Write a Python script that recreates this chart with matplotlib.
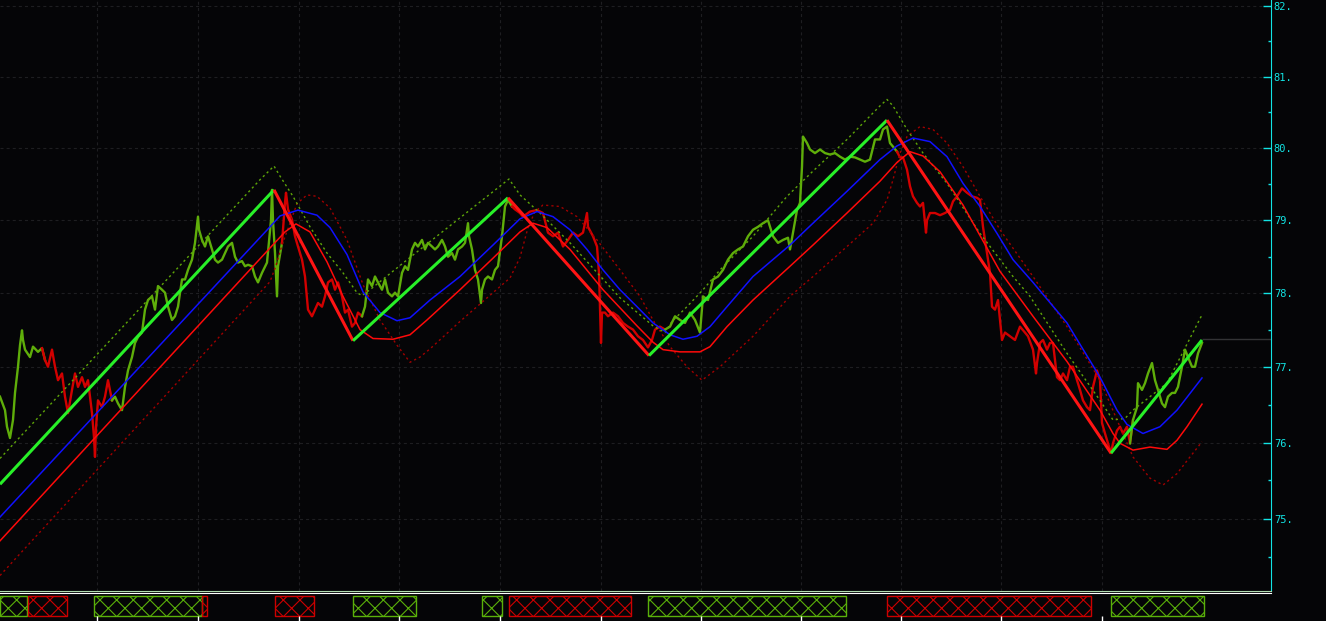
import numpy as np
import matplotlib
matplotlib.use("Agg")
import matplotlib.pyplot as plt
from matplotlib.patches import Rectangle
from matplotlib.ticker import FixedLocator, FuncFormatter, NullFormatter

# ---- price bars (bar index, price) ----
price_x = [0, 5, 7, 10, 13, 15, 18, 20, 22, 23, 25, 30, 33, 38, 42, 45, 48, 52, 55, 58, 62, 65, 68, 72, 75, 78,
           82, 85, 88, 92, 94, 95, 96, 98, 102, 105, 108, 112, 115, 118, 122, 125, 128, 132, 135, 138, 142, 145,
           148, 152, 155, 158, 162, 165, 168, 172, 175, 178, 182, 185, 188, 192, 195, 198, 199, 202, 205, 208,
           212, 215, 218, 222, 225, 228, 232, 235, 238, 242, 245, 248, 252, 255, 258, 262, 267, 271, 272, 273,
           275, 277, 278, 282, 285, 286, 288, 292, 295, 298, 302, 305, 308, 312, 315, 318, 322, 325, 328, 332,
           335, 338, 342, 345, 348, 352, 355, 358, 362, 365, 368, 372, 375, 378, 382, 385, 388, 392, 395, 398,
           402, 405, 408, 412, 415, 418, 422, 425, 428, 432, 435, 438, 442, 445, 448, 452, 455, 458, 462, 465,
           468, 469, 472, 475, 478, 481, 482, 485, 488, 492, 495, 498, 502, 505, 508, 512, 515, 520, 523, 530,
           537, 543, 548, 553, 558, 563, 568, 573, 578, 583, 587, 588, 593, 597, 599, 601, 602, 605, 608, 613,
           618, 623, 628, 633, 638, 643, 648, 652, 655, 660, 665, 670, 675, 680, 685, 690, 695, 700, 703, 708,
           713, 718, 723, 728, 733, 738, 743, 748, 753, 758, 763, 768, 773, 778, 783, 788, 790, 793, 797, 800,
           802, 803, 807, 810, 815, 820, 825, 830, 835, 840, 845, 850, 855, 860, 865, 870, 875, 880, 883, 887,
           890, 893, 897, 900, 903, 907, 910, 913, 917, 920, 923, 926, 927, 930, 935, 940, 945, 950, 953, 957,
           962, 967, 972, 977, 980, 983, 985, 987, 990, 992, 995, 998, 1002, 1005, 1010, 1015, 1020, 1025, 1028,
           1033, 1036, 1037, 1040, 1043, 1047, 1050, 1053, 1057, 1060, 1063, 1067, 1070, 1073, 1077, 1080, 1083,
           1087, 1090, 1093, 1097, 1100, 1102, 1105, 1108, 1111, 1113, 1117, 1120, 1123, 1127, 1130, 1133, 1137,
           1138, 1142, 1145, 1148, 1152, 1155, 1158, 1162, 1165, 1168, 1172, 1175, 1178, 1182, 1185, 1188, 1192,
           1195, 1198, 1202]
price = [76.61, 76.43, 76.21, 76.06, 76.30, 76.66, 77.01, 77.30, 77.50, 77.37, 77.24, 77.14, 77.28, 77.21, 77.26,
         77.10, 77.01, 77.24, 77.01, 76.83, 76.92, 76.61, 76.39, 76.70, 76.92, 76.74, 76.87, 76.74, 76.83, 76.39,
         76.07, 75.81, 76.20, 76.56, 76.47, 76.61, 76.83, 76.56, 76.61, 76.52, 76.43, 76.74, 76.96, 77.14, 77.33,
         77.41, 77.47, 77.78, 77.91, 77.96, 77.78, 78.10, 78.05, 78.01, 77.82, 77.64, 77.69, 77.82, 78.19, 78.19,
         78.32, 78.46, 78.69, 79.05, 78.87, 78.73, 78.64, 78.78, 78.60, 78.46, 78.42, 78.46, 78.55, 78.64, 78.69,
         78.50, 78.42, 78.44, 78.37, 78.39, 78.37, 78.23, 78.15, 78.28, 78.42, 79.00, 79.42, 79.00, 78.55, 77.96,
         78.37, 78.69, 79.24, 79.38, 79.15, 79.01, 78.78, 78.64, 78.46, 78.23, 77.78, 77.69, 77.78, 77.87, 77.82,
         77.96, 78.15, 78.19, 78.05, 78.15, 77.96, 77.74, 77.78, 77.55, 77.60, 77.74, 77.69, 77.82, 78.19, 78.10,
         78.23, 78.15, 78.05, 78.19, 78.01, 77.96, 78.01, 77.96, 78.28, 78.37, 78.32, 78.60, 78.69, 78.64, 78.73,
         78.60, 78.69, 78.64, 78.60, 78.64, 78.73, 78.64, 78.50, 78.55, 78.46, 78.60, 78.64, 78.69, 78.96, 78.78,
         78.60, 78.32, 78.19, 77.87, 78.05, 78.19, 78.23, 78.19, 78.32, 78.37, 78.78, 79.19, 79.28, 79.19, 79.15,
         79.10, 79.05, 79.12, 79.14, 79.10, 78.83, 78.78, 78.83, 78.64, 78.73, 78.83, 78.78, 78.83, 79.10, 78.91,
         78.78, 78.64, 78.28, 77.33, 77.74, 77.74, 77.69, 77.74, 77.69, 77.60, 77.55, 77.51, 77.42, 77.37, 77.27,
         77.37, 77.51, 77.55, 77.51, 77.55, 77.69, 77.64, 77.60, 77.74, 77.64, 77.47, 77.96, 77.91, 78.19, 78.23,
         78.32, 78.46, 78.55, 78.60, 78.64, 78.78, 78.87, 78.91, 78.96, 79.00, 78.78, 78.69, 78.73, 78.76, 78.60,
         78.83, 79.14, 79.24, 79.74, 80.16, 80.07, 79.98, 79.93, 79.98, 79.93, 79.91, 79.93, 79.88, 79.84, 79.88,
         79.87, 79.84, 79.81, 79.84, 80.12, 80.12, 80.26, 80.30, 80.07, 80.02, 79.95, 79.87, 79.87, 79.70, 79.47,
         79.33, 79.24, 79.19, 79.24, 78.83, 79.00, 79.10, 79.10, 79.07, 79.10, 79.14, 79.26, 79.33, 79.44, 79.38,
         79.33, 79.31, 79.28, 78.91, 78.73, 78.55, 78.28, 77.82, 77.78, 77.91, 77.37, 77.47, 77.42, 77.37, 77.55,
         77.47, 77.42, 77.24, 76.92, 77.06, 77.33, 77.37, 77.24, 77.33, 77.33, 76.87, 76.83, 76.92, 76.83, 77.01,
         77.01, 76.83, 76.70, 76.56, 76.47, 76.43, 76.74, 76.96, 76.83, 76.26, 76.12, 75.99, 75.86, 75.99, 76.16,
         76.21, 76.12, 76.21, 75.99, 76.30, 76.47, 76.79, 76.70, 76.79, 76.92, 77.06, 76.83, 76.70, 76.52, 76.47,
         76.61, 76.66, 76.66, 76.74, 77.01, 77.24, 77.14, 77.01, 77.01, 77.19, 77.33]
# bar index where the trend colour flips (starts in an up trend)
trend_flips = [45, 113, 283, 364, 514, 666, 899, 1133]
last_price = 77.38

# ---- zigzag pivots ----
zz_x = [0, 274, 353, 508, 649, 887, 1111, 1202]
zz_p = [75.45, 79.42, 77.36, 79.31, 77.16, 80.39, 75.86, 77.37]

# ---- channel lines ----
blue_x = [0, 270, 280, 298, 317, 330, 347, 363, 380, 397, 410, 430, 460, 493, 520, 537, 553, 570, 587, 603,
          620, 637, 653, 670, 683, 697, 710, 727, 753, 790, 813, 847, 880, 897, 913, 930, 947, 963, 980, 997,
          1013, 1033, 1067, 1100, 1117, 1127, 1143, 1160, 1177, 1202]
blue_p = [75.02, 78.91, 79.06, 79.14, 79.07, 78.90, 78.53, 78.02, 77.74, 77.63, 77.67, 77.91, 78.23, 78.66,
          79.02, 79.12, 79.05, 78.87, 78.60, 78.32, 78.05, 77.82, 77.60, 77.44, 77.38, 77.42, 77.55, 77.82,
          78.23, 78.66, 78.96, 79.40, 79.84, 80.03, 80.14, 80.09, 79.88, 79.51, 79.19, 78.82, 78.46, 78.15,
          77.60, 76.87, 76.43, 76.24, 76.12, 76.21, 76.43, 76.86]

red_x = [0, 270, 285, 296, 310, 327, 343, 360, 373, 393, 410, 427, 460, 493, 520, 533, 547, 570, 603, 637,
         653, 663, 680, 700, 710, 727, 753, 790, 813, 847, 880, 897, 910, 923, 940, 963, 1000, 1033, 1067, 1100,
         1113, 1120, 1133, 1150, 1167, 1177, 1187, 1202]
red_p = [74.71, 78.62, 78.84, 78.95, 78.84, 78.43, 77.96, 77.51, 77.39, 77.38, 77.44, 77.64, 78.05, 78.48,
         78.84, 78.96, 78.90, 78.60, 78.05, 77.56, 77.34, 77.24, 77.21, 77.21, 77.28, 77.55, 77.91, 78.37, 78.66,
         79.10, 79.54, 79.80, 79.95, 79.89, 79.67, 79.21, 78.30, 77.69, 77.08, 76.43, 76.12, 75.99, 75.90, 75.94,
         75.91, 76.03, 76.21, 76.51]

upper_x = [0, 260, 274, 280, 293, 310, 327, 343, 357, 362, 370, 410, 509, 520, 540, 570, 620, 653, 665, 672,
           687, 703, 720, 753, 787, 813, 847, 880, 887, 893, 907, 923, 947, 980, 1013, 1030, 1067, 1100, 1113,
           1125, 1133, 1167, 1202]
upper_p = [75.79, 79.56, 79.75, 79.61, 79.33, 78.91, 78.55, 78.28, 78.01, 77.97, 78.05, 78.49, 79.57, 79.35,
           79.10, 78.69, 77.94, 77.56, 77.47, 77.62, 77.82, 78.05, 78.32, 78.78, 79.33, 79.68, 80.12, 80.59,
           80.68, 80.59, 80.26, 79.93, 79.51, 78.82, 78.23, 77.96, 77.19, 76.56, 76.30, 76.32, 76.43, 76.79, 77.71]

lower_x = [0, 270, 276, 282, 290, 297, 307, 317, 330, 347, 363, 380, 397, 410, 420, 430, 460, 493, 510, 520,
           528, 535, 543, 560, 577, 597, 620, 640, 653, 670, 687, 702, 720, 753, 790, 813, 847, 873, 887, 893,
           900, 907, 920, 933, 947, 963, 980, 1000, 1033, 1067, 1100, 1117, 1133, 1150, 1163, 1177, 1190, 1202]
lower_p = [74.26, 78.16, 78.38, 78.66, 78.96, 79.23, 79.35, 79.33, 79.17, 78.73, 78.12, 77.64, 77.30, 77.07,
           77.14, 77.25, 77.62, 78.01, 78.21, 78.49, 78.90, 79.12, 79.21, 79.19, 79.05, 78.73, 78.32, 77.96,
           77.64, 77.28, 77.01, 76.83, 77.01, 77.42, 77.96, 78.23, 78.64, 78.96, 79.28, 79.56, 79.93, 80.16,
           80.30, 80.26, 80.07, 79.74, 79.33, 78.87, 78.23, 77.55, 76.83, 76.30, 75.81, 75.53, 75.44, 75.59,
           75.81, 76.01]

# ---- indicator strip at the bottom ----
box_start = [0, 28, 94, 202, 275, 353, 482, 509, 648, 887, 1111]
box_end = [27, 67, 202, 207, 314, 416, 502, 631, 846, 1091, 1204]
box_up = [True, False, True, False, False, True, True, False, True, False, True]

price_levels = [75, 76, 77, 78, 79, 80, 81, 82]
half_levels = [74.5, 75.5, 76.5, 77.5, 78.5, 79.5, 80.5, 81.5]
time_grid = [97, 198, 299, 399, 500, 601, 701, 801, 901, 1001, 1102]

bg = "#050507"
cyan = "#12e4e4"
grid_col = "#1e1e21"
plt.rcParams["lines.scale_dashes"] = False
plt.rcParams["hatch.linewidth"] = 0.8

W, H = 1326, 621
fig = plt.figure(figsize=(W / 100, H / 100), dpi=100, facecolor=bg)
ax = fig.add_axes([0, 30 / H, 1271 / W, 591 / H], facecolor=bg)
axb = fig.add_axes([0, 0, 1271 / W, 28 / H], facecolor=bg)

ax.set_yscale("log")
ax.set_xlim(0, 1271)
ax.set_ylim(74.06, 82.09)

# grid
for p in price_levels:
    ax.plot([0, 1262], [p, p], color=grid_col, lw=0.8, dashes=(2.2, 2.2), zorder=1)
for t in time_grid:
    ax.axvline(t, color=grid_col, lw=0.8, dashes=(2.2, 2.2), zorder=1)

# price bars, coloured by trend
px = np.array(price_x)
pp = np.array(price)
edges = [0] + trend_flips + [price_x[-1]]
for i in range(len(edges) - 1):
    idx = np.where((px >= edges[i]) & (px <= edges[i + 1]))[0]
    if idx[0] > 0:
        idx = np.insert(idx, 0, idx[0] - 1)
    col = "#5fae0a" if i % 2 == 0 else "#d20000"
    ax.plot(px[idx], pp[idx], color=col, lw=1.7, zorder=2)

ax.hlines(last_price, price_x[-1], 1271, color="#333335", lw=1, zorder=1)

# channel lines
ax.plot(lower_x, lower_p, color="#a00000", lw=1.0, dashes=(1.6, 2.2), zorder=3)
ax.plot(upper_x, upper_p, color="#5ea608", lw=1.0, dashes=(1.6, 2.2), zorder=3)
ax.plot(red_x, red_p, color="#ff0a0a", lw=1.1, zorder=3)
ax.plot(blue_x, blue_p, color="#1010ff", lw=1.1, zorder=3)

# zigzag
for i in range(len(zz_x) - 1):
    col = "#28f028" if zz_p[i + 1] > zz_p[i] else "#ff1414"
    ax.plot(zz_x[i:i + 2], zz_p[i:i + 2], color=col, lw=2.2, zorder=4, solid_capstyle="butt")

# axis styling
for s in ["left", "top"]:
    ax.spines[s].set_visible(False)
ax.spines["right"].set_color(cyan)
ax.spines["bottom"].set_color("#b0dcb0")
ax.tick_params(axis="x", bottom=False, labelbottom=False)
ax.yaxis.set_ticks_position("right")
ax.yaxis.set_major_locator(FixedLocator(price_levels))
ax.yaxis.set_minor_locator(FixedLocator(half_levels))
ax.yaxis.set_major_formatter(FuncFormatter(lambda v, pos: "%d." % round(v)))
ax.yaxis.set_minor_formatter(NullFormatter())
ax.tick_params(axis="y", which="major", direction="in", length=6, width=1, color=cyan,
               labelcolor=cyan, labelsize=7.5, pad=2)
ax.tick_params(axis="y", which="minor", direction="in", length=2.5, width=1, color=cyan)
for lab in ax.get_yticklabels():
    lab.set_family("DejaVu Sans Mono")

# bottom indicator strip
axb.set_xlim(0, 1271)
axb.set_ylim(0, 1)
for s in ["left", "right", "bottom"]:
    axb.spines[s].set_visible(False)
axb.spines["top"].set_color("white")
for s, e, up in zip(box_start, box_end, box_up):
    col = "#5ab00a" if up else "#cc0000"
    axb.add_patch(Rectangle((s, 0.19), e - s, 0.70, facecolor="none", edgecolor=col, hatch="xx", lw=1))
axb.set_xticks(time_grid)
axb.set_yticks([])
axb.tick_params(axis="x", direction="in", length=3.6, width=1, color="white", labelbottom=False)

fig.savefig("out.png", dpi=100, facecolor=bg)
